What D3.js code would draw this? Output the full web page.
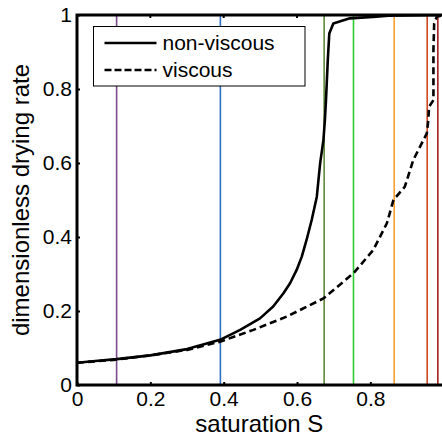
<!DOCTYPE html>
<html>
<head>
<meta charset="utf-8">
<script src="https://cdn.jsdelivr.net/npm/d3@7"></script>
<style>
  body { margin: 0; background: #fff; overflow: hidden; }
  text { font-family: "Liberation Sans", Arial, sans-serif; fill: #000; }
</style>
</head>
<body>
<svg id="chart" width="442" height="437"></svg>
<script>
// DATA ///////////////////////////////////////////////////////////////////////

// non-viscous drying rate, [saturation, rate]
var nonViscous = [
  [0, 0.060], [0.05, 0.065], [0.108, 0.070], [0.2, 0.080], [0.3, 0.097],
  [0.39, 0.122], [0.445, 0.149], [0.499, 0.180], [0.535, 0.212],
  [0.563, 0.248], [0.581, 0.275], [0.599, 0.311], [0.613, 0.347],
  [0.626, 0.392], [0.640, 0.446], [0.654, 0.509], [0.663, 0.599],
  [0.672, 0.662], [0.676, 0.716], [0.679, 0.77], [0.684, 0.88],
  [0.688, 0.95], [0.699, 0.977], [0.744, 0.991], [0.807, 0.995],
  [0.85, 0.998], [1.0, 1.0]
];

// viscous drying rate, [saturation, rate]
var viscous = [
  [0, 0.060], [0.1, 0.068], [0.2, 0.080], [0.3, 0.095], [0.39, 0.117],
  [0.481, 0.149], [0.572, 0.185], [0.672, 0.234], [0.754, 0.302],
  [0.808, 0.365], [0.845, 0.437], [0.863, 0.5], [0.894, 0.536],
  [0.917, 0.608], [0.954, 0.680], [0.958, 0.716], [0.960, 0.752],
  [0.972, 0.77], [0.972, 0.905], [0.974, 0.977], [0.981, 0.995], [1.0, 1.0]
];

// vertical marker lines (saturation) and their colours
var markerS = [0.108, 0.391, 0.674, 0.754, 0.865, 0.955, 0.984];
var markerColours = ["#7b4a8b", "#2e6fc0", "#5e8a36", "#2ecc2e", "#f7a030", "#d0461e", "#a51f1f"];

var xTicks = [0, 0.2, 0.4, 0.6, 0.8];
var yTicks = [0, 0.2, 0.4, 0.6, 0.8, 1];

var seriesNames = ["non-viscous", "viscous"];

// SETUP //////////////////////////////////////////////////////////////////////

var LEFT = 77, TOP = 15, PLOT_W = 366.7, PLOT_H = 370;

var svg = d3.select("#chart");
var g = svg.append("g").attr("transform", "translate(" + LEFT + "," + TOP + ")");

var x = d3.scaleLinear().domain([0, 1]).range([0, PLOT_W]);
var y = d3.scaleLinear().domain([0, 1]).range([PLOT_H, 0]);

g.append("clipPath").attr("id", "clip")
  .append("rect").attr("width", PLOT_W).attr("height", PLOT_H);

// marker lines
g.append("g").selectAll("line")
  .data(markerS)
  .enter().append("line")
  .attr("x1", function (d) { return x(d); })
  .attr("x2", function (d) { return x(d); })
  .attr("y1", 0)
  .attr("y2", PLOT_H)
  .attr("stroke", function (d, i) { return markerColours[i]; })
  .attr("stroke-width", 1.6);

// curves
var line = d3.line().x(function (d) { return x(d[0]); }).y(function (d) { return y(d[1]); });

var curves = g.append("g").attr("clip-path", "url(#clip)");
curves.append("path")
  .datum(nonViscous)
  .attr("d", line)
  .attr("fill", "none")
  .attr("stroke", "#000")
  .attr("stroke-width", 2.6)
  .attr("stroke-linejoin", "round");
curves.append("path")
  .datum(viscous)
  .attr("d", line)
  .attr("fill", "none")
  .attr("stroke", "#000")
  .attr("stroke-width", 2.6)
  .attr("stroke-dasharray", "7,4");

// axes
var xAxis = g.append("g")
  .attr("transform", "translate(0," + PLOT_H + ")")
  .call(d3.axisBottom(x).tickValues(xTicks).tickSize(-3).tickPadding(6).tickFormat(d3.format("")));
var yAxis = g.append("g")
  .call(d3.axisLeft(y).tickValues(yTicks).tickSize(-3).tickPadding(5).tickFormat(d3.format("")));
[xAxis, yAxis].forEach(function (a) {
  a.select(".domain").remove();
  a.selectAll(".tick line").attr("stroke", "#000").attr("stroke-width", 2);
  a.selectAll(".tick text").attr("font-size", 21).style("font-family", "Liberation Sans, Arial, sans-serif");
});
// top ticks
g.append("g").selectAll("line")
  .data(xTicks.slice(1))
  .enter().append("line")
  .attr("x1", function (d) { return x(d); })
  .attr("x2", function (d) { return x(d); })
  .attr("y1", 0).attr("y2", 3)
  .attr("stroke", "#000").attr("stroke-width", 2);

// frame (left, top, bottom)
g.append("path")
  .attr("d", "M" + (PLOT_W + 2) + ",0H0V" + PLOT_H + "H" + (PLOT_W + 2))
  .attr("fill", "none")
  .attr("stroke", "#000")
  .attr("stroke-width", 3);

// axis labels
svg.append("text")
  .attr("x", LEFT + x(0.5) - 1)
  .attr("y", 432)
  .attr("text-anchor", "middle")
  .attr("font-size", 24)
  .text("saturation S");
svg.append("text")
  .attr("transform", "translate(29," + (TOP + PLOT_H / 2) + ") rotate(-90)")
  .attr("text-anchor", "middle")
  .attr("font-size", 24)
  .text("dimensionless drying rate");

// legend
var legend = svg.append("g").attr("transform", "translate(93.5,26.5)");
legend.append("rect")
  .attr("width", 211.5).attr("height", 59.5)
  .attr("fill", "#fff").attr("stroke", "#000").attr("stroke-width", 1);
var items = legend.selectAll("g.item")
  .data(seriesNames)
  .enter().append("g")
  .attr("class", "item")
  .attr("transform", function (d, i) { return "translate(0," + (16.5 + i * 27) + ")"; });
items.append("line")
  .attr("x1", 11).attr("x2", 63)
  .attr("stroke", "#000").attr("stroke-width", 2.6)
  .attr("stroke-dasharray", function (d, i) { return i === 1 ? "7,3" : null; });
items.append("text")
  .attr("x", 69).attr("dy", "0.35em")
  .attr("font-size", 21)
  .text(function (d) { return d; });
</script>
</body>
</html>
